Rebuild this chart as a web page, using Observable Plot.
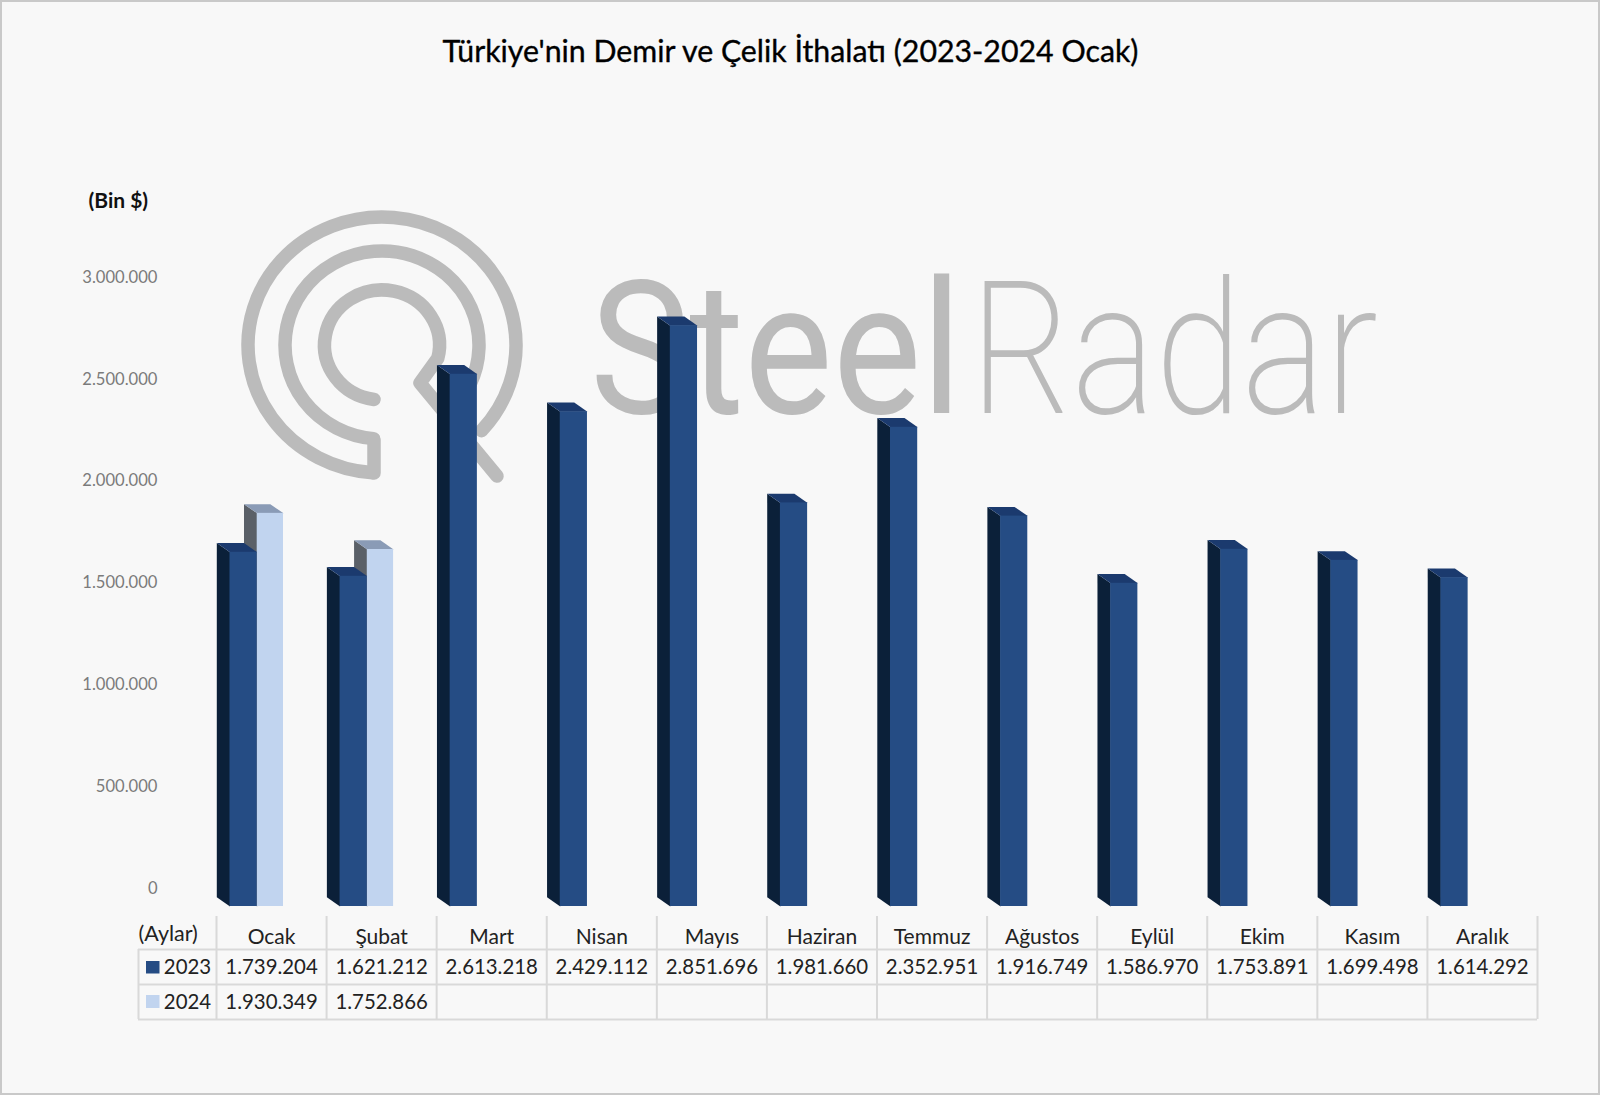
<!DOCTYPE html>
<html lang="tr">
<head>
<meta charset="utf-8">
<style>
html,body{margin:0;padding:0;background:#f8f8f8;}
svg{display:block;}
</style>
<script src="https://cdn.jsdelivr.net/npm/d3@7"></script>
<script src="https://cdn.jsdelivr.net/npm/@observablehq/plot@0.6"></script>
</head>
<body>
<div id="chart"></div>
<script>
const months = ["Ocak","Şubat","Mart","Nisan","Mayıs","Haziran","Temmuz","Ağustos","Eylül","Ekim","Kasım","Aralık"];
const values2023 = [1739204,1621212,2613218,2429112,2851696,1981660,2352951,1916749,1586970,1753891,1699498,1614292];
const values2024 = [1930349,1752866,null,null,null,null,null,null,null,null,null,null];
const yTicks = [0,500000,1000000,1500000,2000000,2500000,3000000];
const title = "Türkiye'nin Demir ve Çelik İthalatı (2023-2024 Ocak)";

const fmt = d3.formatLocale({thousands:".",grouping:[3],decimal:","}).format(",d");

// plot geometry: one month = cellW px, 3.000.000 = plotH px
const W=1600,H=1095,left=216,right=1537,y0=906,yTop=295;
const cellW=(right-left)/12, plotH=y0-yTop;
const xu = px => px/cellW;              // px -> x units
const yu = px => px*3e6/plotH;          // px -> y units
const rowY = py => yu(y0-py);           // page y -> y value
const colX = px => xu(px-left);         // page x -> x value
const depthX=xu(13.2), depthY=yu(9.2);
const slot={a:[xu(13.5),xu(40.7)], b:[xu(40.7),xu(67)]};

const c23={front:"#254c84",side:"#0b2039",top:"#1b3a6e"};
const c24={front:"#c1d4ef",side:"#5a6068",top:"#8a9bb6"};

function series(values,[s,e]){
  return values.map((v,i)=>({i,v,x1:i+s,x2:i+e})).filter(d=>d.v!=null);
}
function faces(rows){
  const side=[],top=[];
  rows.forEach(d=>{
    [[d.x1,0],[d.x1,d.v],[d.x1-depthX,d.v+depthY],[d.x1-depthX,depthY]]
      .forEach(([x,y])=>side.push({id:d.i,x,y}));
    [[d.x1,d.v],[d.x2,d.v],[d.x2-depthX,d.v+depthY],[d.x1-depthX,d.v+depthY]]
      .forEach(([x,y])=>top.push({id:d.i,x,y}));
  });
  return {side,top};
}
function barMarks(rows,c){
  const f=faces(rows);
  return [
    Plot.line(f.side,{x:"x",y:"y",z:"id",fill:c.side,stroke:"none"}),
    Plot.line(f.top,{x:"x",y:"y",z:"id",fill:c.top,stroke:"none"}),
    Plot.rect(rows,{x1:"x1",x2:"x2",y1:0,y2:"v",fill:c.front})
  ];
}
const r23=series(values2023,slot.a), r24=series(values2024,slot.b);

// watermark (behind the bars)
function watermark(){
  const ns="http://www.w3.org/2000/svg";
  const g=document.createElementNS(ns,"g");
  g.setAttribute("aria-label","watermark");
  g.setAttribute("text-anchor","start");
  const cx=382,cy=345,col="#bbbbbb";
  const pt=(rx,ry,deg)=>{const a=deg*Math.PI/180;return [cx+rx*Math.cos(a),cy+ry*Math.sin(a)];};
  const arc=(rx,ry,from,to)=>{const p=pt(rx,ry,from),q=pt(rx,ry,to);return `M${p[0]},${p[1]}A${rx},${ry} 0 1 1 ${q[0]},${q[1]}`;};
  const paths=[
    arc(57.5,55,98,14)+"L420,383L497,476",
    arc(97,94,95,25),
    arc(134,128,94,42),
    "M374,440L374,473"
  ];
  paths.forEach(d=>{
    const p=document.createElementNS(ns,"path");
    p.setAttribute("d",d);p.setAttribute("fill","none");p.setAttribute("stroke",col);
    p.setAttribute("stroke-width",13.5);p.setAttribute("stroke-linecap","round");p.setAttribute("stroke-linejoin","round");
    g.appendChild(p);
  });
  const word=(txt,x,len,weight,family)=>{
    const t=document.createElementNS(ns,"text");
    t.textContent=txt;t.setAttribute("x",x);t.setAttribute("y",413);
    t.setAttribute("font-family",family);t.setAttribute("font-size",186);t.setAttribute("font-weight",weight);
    t.setAttribute("fill",col);t.setAttribute("textLength",len);t.setAttribute("lengthAdjust","spacingAndGlyphs");
    g.appendChild(t);
  };
  word("Steel",590,372,400,"Roboto");
  word("Radar",970,408,200,"Roboto");
  return g;
}

const chart=Plot.plot({
  width:W,height:H,
  marginLeft:left,marginRight:W-right,marginTop:yTop,marginBottom:H-y0,
  style:{fontFamily:"Lato, 'Open Sans', sans-serif",background:"#f8f8f8",color:"#000",overflow:"visible"},
  x:{domain:[0,12],axis:null},
  y:{domain:[0,3000000],axis:null},
  marks:[
    watermark,
    // value axis
    Plot.axisY({anchor:"left",ticks:yTicks,tickFormat:fmt,tickSize:0,tickPadding:59,dy:-18,fontSize:16.6,color:"#7b7b7b",label:null}),
    // bars
    ...barMarks(r24,c24),
    ...barMarks(r23,c23),
    // title and unit
    Plot.text([title],{x:colX(790),y:rowY(52),text:d=>d,fontSize:30.3,fill:"#000",stroke:"#000",strokeWidth:0.35,textAnchor:"middle"}),
    Plot.text(["(Bin $)"],{x:colX(88),y:rowY(201),text:d=>d,fontSize:21,fontWeight:700,fill:"#111",textAnchor:"start"}),
    // data table grid
    Plot.ruleX(d3.range(13),{x:d=>d,y1:rowY(916),y2:rowY(1019),stroke:"#d9d9d9",strokeWidth:2}),
    Plot.ruleX([colX(138)],{y1:rowY(949),y2:rowY(1019),stroke:"#d9d9d9",strokeWidth:2}),
    Plot.ruleY([rowY(949),rowY(984),rowY(1019)],{x1:colX(138),x2:12,stroke:"#d9d9d9",strokeWidth:2}),
    // table text
    Plot.text(["(Aylar)"],{x:colX(138),y:rowY(934),text:d=>d,fontSize:21.5,fill:"#222",textAnchor:"start"}),
    Plot.text(months,{x:(d,i)=>i+.5,y:rowY(937),text:d=>d,fontSize:21,fill:"#222"}),
    Plot.text(values2023,{x:(d,i)=>i+.5,y:rowY(967),text:d=>fmt(d),fontSize:20.4,fill:"#222"}),
    Plot.text(values2024.filter(d=>d!=null),{x:(d,i)=>i+.5,y:rowY(1002),text:d=>fmt(d),fontSize:20.4,fill:"#222"}),
    Plot.text(["2023"],{x:colX(187),y:rowY(967),text:d=>d,fontSize:20.4,fill:"#222"}),
    Plot.text(["2024"],{x:colX(187),y:rowY(1002),text:d=>d,fontSize:20.4,fill:"#222"}),
    Plot.rect([c23.front],{x1:colX(146),x2:colX(159.5),y1:rowY(973.5),y2:rowY(961),fill:d=>d}),
    Plot.rect([c24.front],{x1:colX(146),x2:colX(159.5),y1:rowY(1008),y2:rowY(995),fill:d=>d})
  ]
});
chart.style.outline="2px solid #c9c9c9";chart.style.outlineOffset="-2px";
document.getElementById("chart").append(chart);
</script>
</body>
</html>
